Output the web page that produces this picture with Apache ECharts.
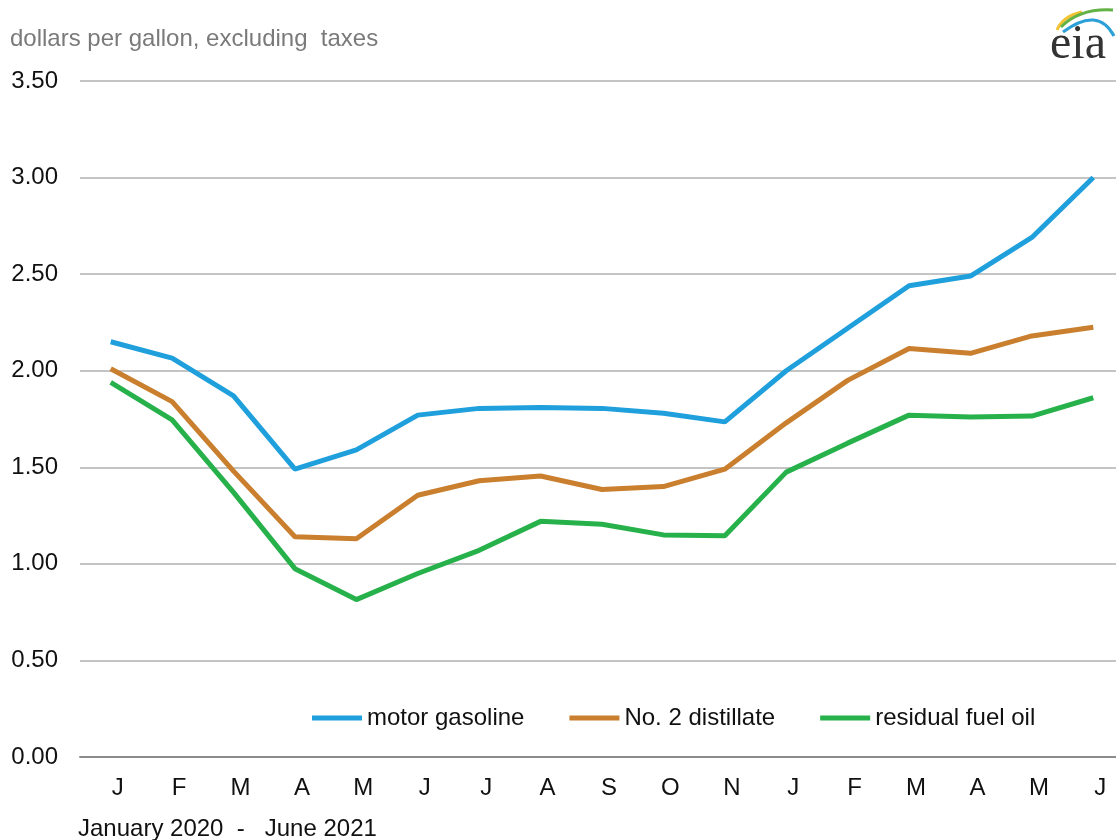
<!DOCTYPE html>
<html>
<head>
<meta charset="utf-8">
<script src="https://cdn.jsdelivr.net/npm/echarts@6/dist/echarts.min.js"></script>
<style>
  html, body { margin: 0; padding: 0; background: #fff; }
  #main { width: 1116px; height: 840px; }
</style>
</head>
<body>
<div id="main"></div>
<script>
// Jan 2020 - Jun 2021 (no December on the axis)
const months = ['J', 'F', 'M', 'A', 'M', 'J', 'J', 'A', 'S', 'O', 'N', 'J', 'F', 'M', 'A', 'M', 'J']
const gasoline = [2.15, 2.065, 1.87, 1.49, 1.59, 1.77, 1.805, 1.81, 1.805, 1.78, 1.735, 2.0, 2.22, 2.44, 2.49, 2.69, 3.0]
const distillate = [2.01, 1.84, 1.48, 1.14, 1.13, 1.355, 1.43, 1.455, 1.385, 1.4, 1.49, 1.73, 1.95, 2.115, 2.09, 2.18, 2.225]
const residual = [1.94, 1.745, 1.37, 0.975, 0.815, 0.95, 1.07, 1.22, 1.205, 1.15, 1.145, 1.475, 1.625, 1.77, 1.76, 1.765, 1.86]
const yTicks = [0, 0.5, 1, 1.5, 2, 2.5, 3, 3.5]

const font = 'Liberation Sans, Arial, sans-serif'
const myChart = echarts.init(document.getElementById('main'))

let option = {
  backgroundColor: '#fff',
  animation: false,
  textStyle: { fontFamily: font },
  grid: {
    left: 80,
    top: 81,
    width: 1044,
    height: 676,
    outerBoundsMode: 'none'
  },
  legend: {
    left: 307,
    top: 701,
    icon: 'rect',
    itemWidth: 50,
    itemHeight: 5,
    itemGap: 45,
    textStyle: { fontSize: 24, color: '#111', fontFamily: font },
    data: ['motor gasoline', 'No. 2 distillate', 'residual fuel oil']
  },
  xAxis: {
    type: 'category',
    data: months,
    axisLine: { lineStyle: { color: '#8c8c8c', width: 2 } },
    axisTick: { length: 7, lineStyle: { color: '#8c8c8c', width: 2 } },
    axisLabel: {
      interval: 0,
      margin: 19,
      padding: [0, 0, 0, 14], // labels sit a bit right of the points in the original
      fontSize: 24,
      color: '#111',
      fontFamily: font
    },
    splitLine: { show: false }
  },
  yAxis: {
    type: 'value',
    min: yTicks[0],
    max: yTicks[yTicks.length - 1],
    interval: 0.5,
    axisLine: { show: false },
    axisTick: { show: false },
    axisLabel: {
      margin: 22,
      fontSize: 24,
      color: '#111',
      fontFamily: font,
      formatter: v => v.toFixed(2)
    },
    splitLine: { lineStyle: { color: '#c4c4c4', width: 2 } }
  },
  series: [
    {
      name: 'motor gasoline',
      type: 'line',
      data: gasoline,
      symbol: 'none',
      lineStyle: { width: 5, color: '#1fa0dc' },
      itemStyle: { color: '#1fa0dc' }
    },
    {
      name: 'No. 2 distillate',
      type: 'line',
      data: distillate,
      symbol: 'none',
      lineStyle: { width: 5, color: '#c97f2e' },
      itemStyle: { color: '#c97f2e' }
    },
    {
      name: 'residual fuel oil',
      type: 'line',
      data: residual,
      symbol: 'none',
      lineStyle: { width: 5, color: '#27b14b' },
      itemStyle: { color: '#27b14b' }
    }
  ],
  graphic: [
    {
      type: 'text', left: 10, top: 27,
      style: { text: 'dollars per gallon, excluding  taxes', fontSize: 24, fill: '#7a7a7a', fontFamily: font }
    },
    {
      type: 'text', left: 78, top: 817,
      style: { text: 'January 2020  -   June 2021', fontSize: 24, fill: '#111', fontFamily: font }
    },
    // eia logo
    {
      type: 'text', left: 1050, top: 21,
      style: { text: 'eia', fontSize: 48, fill: '#333', fontFamily: 'Liberation Serif, DejaVu Serif, serif' }
    },
    {
      type: 'bezierCurve',
      shape: { x1: 1057, y1: 30, x2: 1082, y2: 12, cpx1: 1063, cpy1: 16 },
      style: { stroke: '#f1c232', lineWidth: 3, fill: null }
    },
    {
      type: 'bezierCurve',
      shape: { x1: 1061, y1: 27, x2: 1113, y2: 10, cpx1: 1080, cpy1: 8 },
      style: { stroke: '#62b246', lineWidth: 3, fill: null }
    },
    {
      type: 'bezierCurve',
      shape: { x1: 1063, y1: 32, x2: 1114, y2: 36, cpx1: 1098, cpy1: 6 },
      style: { stroke: '#2a9fd8', lineWidth: 3, fill: null }
    }
  ]
}

myChart.setOption(option)
</script>
</body>
</html>
